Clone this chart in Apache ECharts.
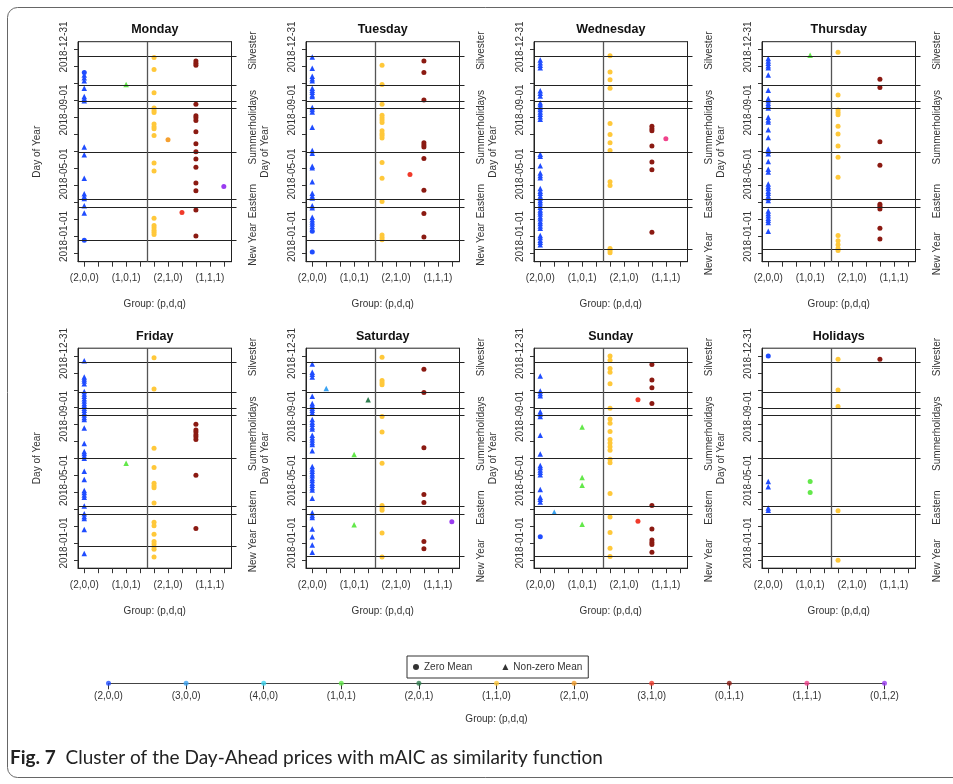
<!DOCTYPE html>
<html><head><meta charset="utf-8">
<script src="https://cdn.jsdelivr.net/npm/echarts@6/dist/echarts.min.js"></script>
<style>html,body{margin:0;padding:0;background:#fff}#c{width:953px;height:784px}</style>
</head><body><div id="c"></div>
<script>
// ---- categories / labels ----
const groups = ['(2,0,0)','(3,0,0)','(4,0,0)','(1,0,1)','(2,0,1)','(1,1,0)','(2,1,0)','(3,1,0)','(0,1,1)','(1,1,1)','(0,1,2)'];
const groupColors = ['#1f4cff','#3ba3f2','#3fd6f0','#63e84a','#2f7d4f','#ffc83a','#f5a030','#f03a2a','#8b1a12','#f0438c','#9a3cf0'];
const panelNames = ['Monday','Tuesday','Wednesday','Thursday','Friday','Saturday','Sunday','Holidays'];
const xLabelIdx = [0,3,6,9];
const yLabelValues = [0,120,243,364];
const yLabels = ['2018-01-01','2018-05-01','2018-09-01','2018-12-31'];
const yTickValues = [-32.3,0.4,33,65.7,98.3,131,163.7,196.3,229,261.6,294.3,327,359.6];
const holidayLines = [347,290,259,246,162,71,56];
const newYearLines = [-7,-7,-25,-25,-7,-26,-26,-26];
const holidayLabels = ['Silvester','Summerholidays','Eastern','New Year'];
const holidayLabelValues = [357,210,68];
const legendNames = ['Zero Mean','Non-zero Mean'];

// ---- data: day of year (0 = 2018-01-01) per group ----
const monNonZero = {'(2,0,0)':[310,305,299,285,269,265,261,172,157,112,82,77,73,59,45],'(1,0,1)':[292]};
const monZero = {'(2,0,0)':[315,-7],'(1,1,0)':[344,321,276,247,242,238,216,211,207,194,141,126,35,21,17,12,8,4],'(2,1,0)':[186],'(3,1,0)':[46],'(0,1,1)':[337,333,329,254,232,228,223,201,178,163,149,133,103,88,51,1],'(0,1,2)':[96]};
const tueNonZero = {'(2,0,0)':[345,323,308,303,299,285,281,277,272,269,248,244,239,210,165,160,135,132,105,83,78,74,59,55,37,32,28,24,19]};
const tueZero = {'(2,0,0)':[10,-30],'(1,1,0)':[329,292,254,233,228,224,219,203,198,194,189,142,112,67,3,-2,-6],'(3,1,0)':[119],'(0,1,1)':[337,315,262,180,176,172,150,89,44,-1]};
const wedNonZero = {'(2,0,0)':[339,334,329,324,280,275,270,257,253,248,244,239,235,230,225,158,154,136,122,117,113,92,87,83,78,74,69,65,60,56,51,47,43,38,34,29,25,20,16,2,-2,-7,-11,-16]};
const wedZero = {'(1,1,0)':[347,316,301,285,217,196,180,165,105,98,-23,-27,-31],'(0,1,1)':[212,207,203,174,143,128,8],'(1,1,1)':[188]};
const thuNonZero = {'(2,0,0)':[342,337,333,328,324,310,281,265,261,256,252,247,229,224,220,205,190,168,164,159,144,129,124,101,96,92,87,83,78,74,69,49,44,40,35,31,27,10],'(1,0,1)':[348]};
const thuZero = {'(1,1,0)':[354,272,243,238,234,212,197,174,152,114,2,-8,-16,-23,-27],'(0,1,1)':[302,286,182,137,62,58,53,16,-5]};
const friNonZero = {'(2,0,0)':[350,319,315,311,306,291,286,282,277,273,268,264,259,255,250,246,241,237,221,191,176,172,167,163,138,122,101,97,92,88,71,56,51,47,26,-20],'(1,0,1)':[153]};
const friZero = {'(1,1,0)':[356,296,182,145,115,110,106,77,40,33,17,3,-2,-7,-12,-27],'(0,1,1)':[228,217,213,208,204,199,130,28]};
const satNonZero = {'(2,0,0)':[344,328,324,319,282,268,264,259,255,250,237,232,228,223,219,207,202,198,193,189,177,147,142,138,133,129,124,120,115,111,106,102,86,58,53,49,27,12,-4,-18],'(3,0,0)':[297],'(2,0,1)':[275],'(1,0,1)':[170,35]};
const satZero = {'(1,1,0)':[357,312,308,304,243,213,153,72,67,63,19,-27],'(0,1,1)':[334,289,183,93,78,3,-11],'(0,1,2)':[41]};
const sunNonZero = {'(2,0,0)':[321,292,287,283,252,248,243,207,171,149,145,140,136,131,103,88,84,79],'(3,0,0)':[59],'(1,0,1)':[223,126,111,36]};
const sunZero = {'(2,0,0)':[12],'(1,1,0)':[359,351,335,328,306,259,238,230,214,199,192,185,178,161,154,95,50,20,-10,-26],'(3,1,0)':[275,42],'(0,1,1)':[343,313,298,268,72,27,6,1,-3,-18]};
const holNonZero = {'(2,0,0)':[118,108,67,63]};
const holZero = {'(2,0,0)':[359],'(1,0,1)':[118,97],'(1,1,0)':[353,294,262,62,-33],'(0,1,1)':[353]};

const panelNonZero = [monNonZero,tueNonZero,wedNonZero,thuNonZero,friNonZero,satNonZero,sunNonZero,holNonZero];
const panelZero = [monZero,tueZero,wedZero,thuZero,friZero,satZero,sunZero,holZero];

// ---- build ----
const FONT = 'Liberation Sans, Arial, sans-serif';
const TXT = '#333';
function toPoints(obj){const out=[];Object.keys(obj).forEach(g=>obj[g].forEach(d=>out.push([groups.indexOf(g),d])));return out;}
const colorFn = p => groupColors[p.value[0]];
const allTicks = groups.map((g,i)=>i);

const grid=[],xAxis=[],yAxis=[],series=[],title=[];
const YMIN=-48.4, YMAX=374.2;
panelNames.forEach((name,i)=>{
  const col=i%4,row=Math.floor(i/4);
  const left=78+228*col, top=row?348.2:41.7, w=153.5, h=220;
  grid.push({left:left,top:top,width:w,height:h,show:true,borderColor:'#222',borderWidth:1,containLabel:false});
  title.push({text:name,left:left+w/2,top:row?330:23,textAlign:'center',padding:0,
    textStyle:{fontSize:12.5,fontWeight:'bold',color:'#111',fontFamily:FONT}});
  xAxis.push({type:'value',gridIndex:i,min:-0.45,max:10.55,
    axisLine:{show:true,onZero:false,lineStyle:{color:'#222'}},
    axisTick:{show:true,customValues:allTicks,length:5,lineStyle:{color:'#333'}},
    axisLabel:{customValues:xLabelIdx,formatter:v=>groups[Math.round(v)],fontSize:10,color:TXT,margin:12,fontFamily:FONT},
    splitLine:{show:false},
    name:'Group: (p,d,q)',nameLocation:'middle',nameGap:38,nameTextStyle:{fontSize:10,color:TXT,fontFamily:FONT}});
  const ny=newYearLines[i];
  const lines=holidayLines.concat([ny]);
  const rLabVals=holidayLabelValues.concat([ny-8]);
  yAxis.push({type:'value',gridIndex:i,min:YMIN,max:YMAX,
    axisLine:{show:true,onZero:false,lineStyle:{color:'#222'}},
    axisTick:{show:true,customValues:yTickValues,length:4,lineStyle:{color:'#333'}},
    axisLabel:{customValues:yLabelValues,formatter:v=>yLabels[yLabelValues.indexOf(v)],rotate:90,fontSize:10,color:TXT,margin:9,fontFamily:FONT},
    splitLine:{show:false},
    name:'Day of Year',nameLocation:'middle',nameGap:36,nameRotate:90,nameTextStyle:{fontSize:10,color:TXT,fontFamily:FONT}});
  yAxis.push({type:'value',gridIndex:i,position:'right',min:YMIN,max:YMAX,
    axisLine:{show:true,onZero:false,lineStyle:{color:'#222'}},
    axisTick:{show:true,customValues:lines,length:5,lineStyle:{color:'#222'}},
    axisLabel:{customValues:rLabVals,formatter:v=>holidayLabels[rLabVals.indexOf(v)],rotate:90,fontSize:10,color:TXT,margin:17,fontFamily:FONT},
    splitLine:{show:false}});
  const yi=yAxis.length-2;
  series.push({type:'scatter',xAxisIndex:i,yAxisIndex:yi,symbol:'circle',symbolSize:5,
    itemStyle:{color:colorFn,opacity:1},data:toPoints(panelZero[i]),z:3,
    markLine:{silent:true,symbol:['none','none'],label:{show:false},animation:false,
      lineStyle:{color:'#222',width:1,type:'solid'},
      data:lines.map(v=>({yAxis:v})).concat([{xAxis:4.5,lineStyle:{color:'#555',width:1.3,type:'solid'}}])}});
  series.push({type:'scatter',xAxisIndex:i,yAxisIndex:yi,symbol:'triangle',symbolSize:5.5,
    itemStyle:{color:colorFn,opacity:1},data:toPoints(panelNonZero[i]),z:3});
});

// legend group axis
const gi=grid.length;
grid.push({left:108.5,top:663,width:776,height:20.3});
xAxis.push({type:'value',gridIndex:gi,min:0,max:10,
  axisLine:{show:true,onZero:false,lineStyle:{color:'#444'}},
  axisTick:{show:true,customValues:allTicks,length:6,lineStyle:{color:'#333'}},
  axisLabel:{customValues:allTicks,formatter:v=>groups[Math.round(v)],fontSize:10,color:TXT,margin:8,fontFamily:FONT},
  splitLine:{show:false},
  name:'Group: (p,d,q)',nameLocation:'middle',nameGap:31,nameTextStyle:{fontSize:10,color:TXT,fontFamily:FONT}});
yAxis.push({type:'value',gridIndex:gi,min:0,max:1,show:false});
series.push({type:'scatter',xAxisIndex:gi,yAxisIndex:yAxis.length-1,symbol:'circle',symbolSize:5,clip:false,
  itemStyle:{color:colorFn},data:groups.map((g,k)=>[k,0]),z:5});
series.push({name:legendNames[0],type:'scatter',xAxisIndex:gi,yAxisIndex:yAxis.length-1,symbol:'circle',itemStyle:{color:'#000'},data:[]});
series.push({name:legendNames[1],type:'scatter',xAxisIndex:gi,yAxisIndex:yAxis.length-1,symbol:'triangle',itemStyle:{color:'#000'},data:[]});

const option={
  animation:false,
  textStyle:{fontFamily:FONT},
  title:title,grid:grid,xAxis:xAxis,yAxis:yAxis,series:series,
  legend:{data:[{name:legendNames[0],icon:'circle'},{name:legendNames[1],icon:'triangle'}],
    left:407,top:656,orient:'horizontal',selectedMode:false,
    borderColor:'#333',borderWidth:1,borderRadius:0,padding:[6,6,6,6],
    itemWidth:6,itemHeight:6,itemGap:30,
    textStyle:{fontSize:10,color:TXT,fontFamily:FONT}},
  graphic:[
    {type:'rect',shape:{x:7.5,y:7.5,width:990,height:770,r:10},style:{fill:'none',stroke:'#666',lineWidth:1},silent:true,z:-1},
    {type:'text',left:10,top:748,style:{text:'{b|Fig. 7}  Cluster of the Day-Ahead prices with mAIC as similarity function',
      fill:'#222',fontSize:19,fontFamily:'Lato, sans-serif',
      rich:{b:{fontWeight:'bold',fontSize:19,fontFamily:'Lato, sans-serif',fill:'#222'}}}}
  ]
};
const chart=echarts.init(document.getElementById('c'),null,{renderer:'canvas'});
chart.setOption(option);
</script></body></html>
